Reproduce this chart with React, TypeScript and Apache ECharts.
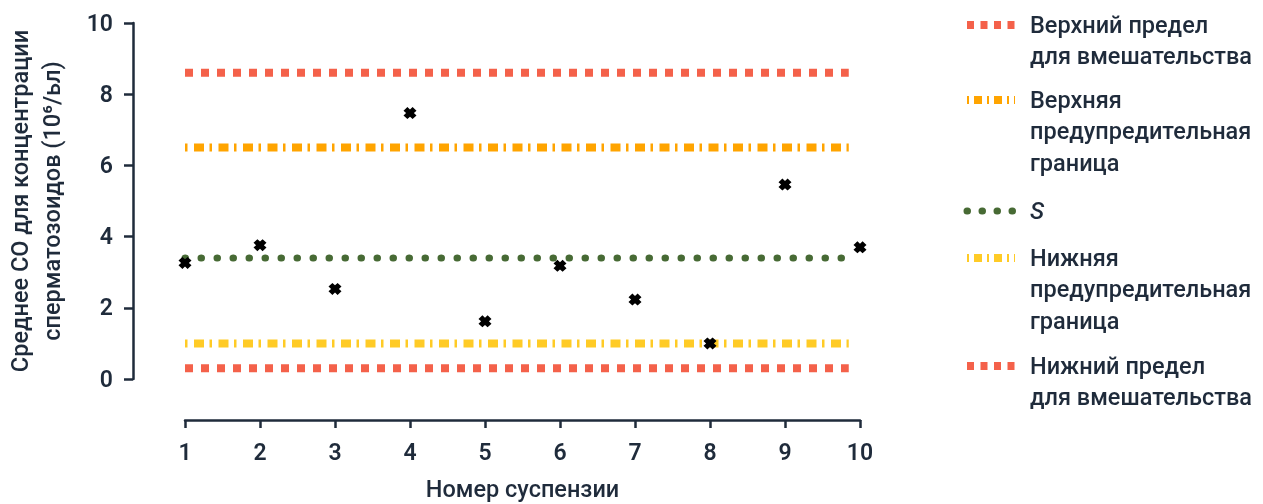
import React, { useEffect, useRef } from "react";
import * as echarts from "echarts";

const suspensionNumbers = [1, 2, 3, 4, 5, 6, 7, 8, 9, 10];
const meanSdValues = [3.26, 3.76, 2.53, 7.47, 1.62, 3.18, 2.23, 1.0, 5.46, 3.7];
const limitSpan = [1, 9.85];
const limitNames = [
  "Верхний предел для вмешательства",
  "Верхняя предупредительная граница",
  "S",
  "Нижняя предупредительная граница",
  "Нижний предел для вмешательства",
];
const limitValues = [8.6, 6.5, 3.4, 1.0, 0.3];
const legendTexts = [
  "Верхний предел\nдля вмешательства",
  "Верхняя\nпредупредительная\nграница",
  "S",
  "Нижняя\nпредупредительная\nграница",
  "Нижний предел\nдля вмешательства",
];
const xAxisTitle = "Номер суспензии";
const yAxisTitle = "Среднее СО для концентрации\nсперматозоидов (10⁶/ьл)";

const TEXT = "#1f2b3b";
const RED = "#f4614a";
const ORANGE = "#ffa400";
const YELLOW = "#ffcb26";
const GREEN = "#476a34";
const FONT = "Roboto, 'Noto Sans', sans-serif";

const limitStyles = [
  { color: RED, width: 8, type: [8, 8], cap: "butt" },
  { color: ORANGE, width: 8, type: [2.5, 6.5, 10, 5.5], cap: "butt" },
  { color: GREEN, width: 7, type: [0.5, 15.5], cap: "round" },
  { color: YELLOW, width: 8, type: [2.5, 6.5, 10, 5.5], cap: "butt" },
  { color: RED, width: 8, type: [8, 8], cap: "butt" },
];
const legendDash = [[7, 6.5], [2, 5, 8, 5], [0.5, 14.5], [2, 5, 8, 5], [7, 6.5]];
const legendY = [25, 100, 211, 258, 366];

const crossPath =
  "path://M0,3 L3,0 L5,2 L7,0 L10,3 L8,5 L10,7 L7,10 L5,8 L3,10 L0,7 L2,5 Z";

export default function App() {
  const ref = useRef<HTMLDivElement>(null);
  useEffect(() => {
    if (!ref.current) return;
    const chart = echarts.init(ref.current, null, { renderer: "svg" });
    const limitSeries = limitValues.map((v, i) => ({
      name: limitNames[i],
      type: "line",
      data: limitSpan.map((x) => [x, v]),
      showSymbol: false,
      symbol: "none",
      silent: true,
      z: 2,
      lineStyle: {
        color: limitStyles[i].color,
        width: limitStyles[i].width,
        type: limitStyles[i].type,
        cap: limitStyles[i].cap,
      },
    }));
    const legendGraphics: any[] = [];
    legendTexts.forEach((t, i) => {
      const st = limitStyles[i];
      legendGraphics.push({
        type: "line",
        shape: { x1: 967, y1: legendY[i], x2: 1015, y2: legendY[i] },
        style: {
          stroke: st.color,
          lineWidth: st.width,
          lineDash: legendDash[i],
          lineCap: st.cap,
        },
      });
      legendGraphics.push({
        type: "text",
        x: 1030,
        y: legendY[i] - 16,
        style: {
          text: t,
          fill: TEXT,
          font: i === 2 ? `italic 500 24px ${FONT}` : `500 23.5px ${FONT}`,
          lineHeight: 31.5,
          verticalAlign: "top",
          align: "left",
        },
      });
    });
    chart.setOption({
      animation: false,
      grid: {
        left: 185,
        right: 403,
        top: 23,
        bottom: 125,
        containLabel: false,
        outerBoundsMode: "none",
      },
      xAxis: {
        type: "value",
        min: 1,
        max: 10,
        interval: 1,
        offset: 41,
        name: xAxisTitle,
        nameLocation: "middle",
        nameGap: 57,
        nameTextStyle: {
          color: TEXT,
          fontSize: 23.5,
          fontWeight: 500,
          fontFamily: FONT,
          lineHeight: 24,
        },
        axisLine: { show: true, onZero: false, lineStyle: { color: TEXT, width: 2.5 } },
        axisTick: { show: true, length: 8, lineStyle: { color: TEXT, width: 2.5 } },
        axisLabel: { color: TEXT, fontSize: 23, fontWeight: 600, fontFamily: FONT, margin: 21 },
        splitLine: { show: false },
      },
      yAxis: {
        type: "value",
        min: 0,
        max: 10,
        interval: 2,
        offset: 52,
        name: yAxisTitle,
        nameLocation: "middle",
        nameGap: 65,
        nameTextStyle: {
          color: TEXT,
          fontSize: 23.5,
          fontWeight: 500,
          fontFamily: FONT,
          lineHeight: 32,
          align: "center",
        },
        axisLine: { show: true, onZero: false, lineStyle: { color: TEXT, width: 2.5 } },
        axisTick: { show: true, length: 9, lineStyle: { color: TEXT, width: 2.5 } },
        axisLabel: { color: TEXT, fontSize: 23, fontWeight: 600, fontFamily: FONT, margin: 20 },
        splitLine: { show: false },
      },
      series: [
        ...limitSeries,
        {
          name: "Среднее СО",
          type: "scatter",
          data: suspensionNumbers.map((x, i) => [x, meanSdValues[i]]),
          symbol: crossPath,
          symbolSize: [13, 12],
          itemStyle: { color: "#000000", opacity: 1 },
          z: 5,
        },
      ],
      graphic: legendGraphics,
    });
    return () => chart.dispose();
  }, []);
  return (
    <div
      ref={ref}
      style={{ position: "fixed", left: 0, top: 0, width: 1263, height: 504 }}
    />
  );
}
